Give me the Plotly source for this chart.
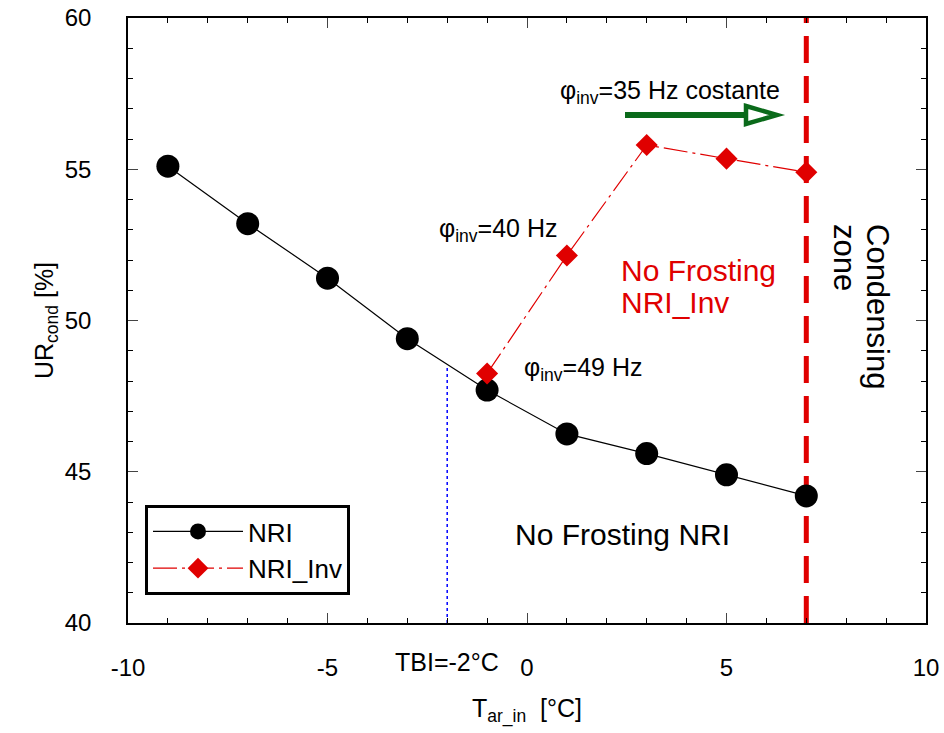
import plotly.graph_objects as go

# Data
t_nri = [-9, -7, -5, -3, -1, 1, 3, 5, 7]
ur_nri = [55.1, 53.2, 51.4, 49.4, 47.7, 46.25, 45.6, 44.9, 44.2]
t_inv = [-1, 1, 3, 5, 7]
ur_inv = [48.25, 52.15, 55.8, 55.35, 54.9]
x_ticks = [-10, -5, 0, 5, 10]
y_ticks = [40, 45, 50, 55, 60]
tbi = -2
tbi_ur = 48.5
t_cond = 7

FONT = "Arial, Liberation Sans, sans-serif"
RED = "#e00000"
GREEN = "#0a6a1a"

L, R, T, B = 128, 18, 18, 110
PW, PH = 944 - L - R, 733 - T - B
PXX = PW / 20.0
PXY = PH / 20.0


def dx(px):
    return -10 + (px - L) / PXX


def dy(py):
    return 60 - (py - T) / PXY


def py_paper(py):
    return (733 - B - py) / PH


fig = go.Figure()

# TBI dotted line
fig.add_trace(go.Scatter(x=[tbi, tbi], y=[40, tbi_ur], mode="lines",
                         line=dict(color="blue", width=1.5, dash="dot"),
                         showlegend=False, hoverinfo="skip"))
# Condensing limit
fig.add_trace(go.Scatter(x=[t_cond, t_cond], y=[40, 60], mode="lines",
                         line=dict(color=RED, width=5, dash="27px,13px"),
                         showlegend=False, hoverinfo="skip"))

fig.add_trace(go.Scatter(x=t_nri, y=ur_nri, mode="lines+markers", name="NRI",
                         line=dict(color="black", width=1.2),
                         marker=dict(symbol="circle", size=23, color="black")))
fig.add_trace(go.Scatter(x=t_inv, y=ur_inv, mode="lines+markers", name="NRI_Inv",
                         line=dict(color=RED, width=1.2, dash="24px,5px,3px,5px"),
                         marker=dict(symbol="diamond", size=17, color=RED)))

# Green arrow: line + open head
fig.add_shape(type="line", x0=dx(625), y0=dy(115), x1=dx(752), y1=dy(115),
              line=dict(color=GREEN, width=6))
fig.add_shape(type="path",
              path=f"M {dx(746)} {dy(106)} L {dx(777)} {dy(115)} L {dx(746)} {dy(124)} Z",
              line=dict(color=GREEN, width=4.5), fillcolor="white")

ann = [
    dict(x=558, y=92, text="φ<sub>inv</sub>=35 Hz costante"),
    dict(x=437, y=230, text="φ<sub>inv</sub>=40 Hz"),
    dict(x=522, y=369, text="φ<sub>inv</sub>=49 Hz"),
]
for a in ann:
    fig.add_annotation(x=dx(a["x"]), y=dy(a["y"]),
                       text=a["text"], showarrow=False, xanchor="left", yanchor="middle",
                       font=dict(family=FONT, size=25, color="black"))

fig.add_annotation(x=dx(619), y=dy(270), text="No Frosting", showarrow=False,
                   xanchor="left", yanchor="middle",
                   font=dict(family=FONT, size=30, color=RED))
fig.add_annotation(x=dx(619), y=dy(302), text="NRI_Inv", showarrow=False,
                   xanchor="left", yanchor="middle",
                   font=dict(family=FONT, size=30, color=RED))
fig.add_annotation(x=dx(513), y=dy(534),
                   text="No Frosting NRI", showarrow=False, xanchor="left",
                   yanchor="middle", font=dict(family=FONT, size=30, color="black"))
fig.add_annotation(x=dx(878), y=dy(306), text="Condensing", showarrow=False,
                   textangle=90, xanchor="center", yanchor="middle",
                   font=dict(family=FONT, size=31, color="black"))
fig.add_annotation(x=dx(845), y=dy(257), text="zone", showarrow=False,
                   textangle=90, xanchor="center", yanchor="middle",
                   font=dict(family=FONT, size=31, color="black"))
fig.add_annotation(x=tbi, y=py_paper(662), yref="paper", text="TBI=-2°C",
                   showarrow=False, yanchor="middle", xanchor="center",
                   font=dict(family=FONT, size=25, color="black"))

fig.update_layout(
    width=944, height=733,
    margin=dict(l=L, r=R, t=T, b=B, autoexpand=False),
    paper_bgcolor="white", plot_bgcolor="white",
    font=dict(family=FONT, size=24, color="black"),
    legend=dict(x=(145 - L) / PW, y=py_paper(505),
                xanchor="left", yanchor="top",
                bordercolor="black", borderwidth=3, bgcolor="white",
                font=dict(family=FONT, size=26), itemwidth=90,
                tracegroupgap=0),
    showlegend=True,
)
fig.update_xaxes(range=[-10, 10], tickvals=x_ticks, ticktext=["-10", "-5", "0", "5", "10"],
                 automargin=False,
                 ticks="inside", ticklen=10, tickwidth=1, showline=True, linecolor="black",
                 linewidth=1.5, mirror="ticks", showgrid=False, zeroline=False,
                 minor=dict(dtick=1, ticks="inside", ticklen=5, tickcolor="black"),
                 ticklabelstandoff=22,
                 title=dict(text="T<sub>ar_in</sub>  [°C]", font=dict(size=25), standoff=20),
                 tickfont=dict(size=24))
fig.update_yaxes(range=[40, 60], tickvals=y_ticks, automargin=False,
                 ticks="inside", ticklen=10, tickwidth=1, showline=True, linecolor="black",
                 linewidth=1.5, mirror="ticks", showgrid=False, zeroline=False,
                 minor=dict(dtick=1, ticks="inside", ticklen=5, tickcolor="black"),
                 ticklabelstandoff=30,
                 title=dict(text="UR<sub>cond</sub> [%]", font=dict(size=25), standoff=4),
                 tickfont=dict(size=24))

fig.write_html("out.html")
